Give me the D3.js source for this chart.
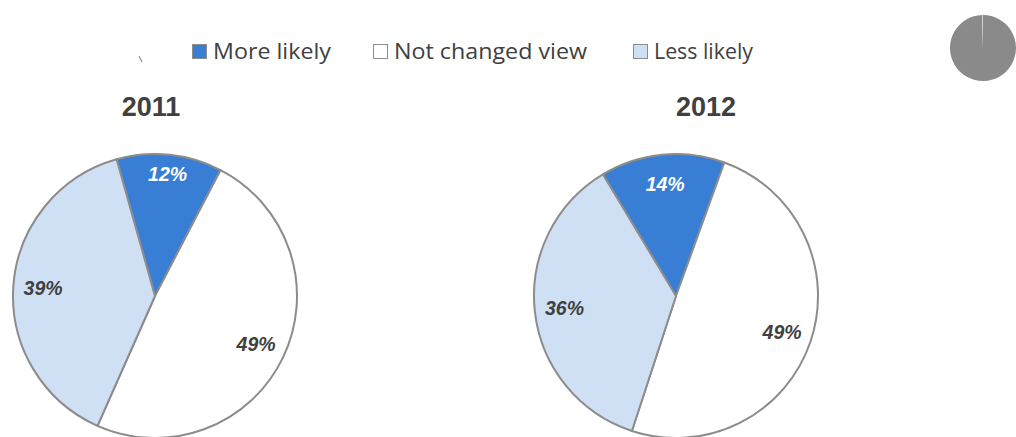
<!DOCTYPE html>
<html><head><meta charset="utf-8">
<script src="https://cdn.jsdelivr.net/npm/d3@7"></script>
<style>html,body{margin:0;padding:0;background:#fff;overflow:hidden}</style>
</head><body>
<svg id="c" width="1016" height="437"></svg>
<script>
const categories = ["More likely", "Not changed view", "Less likely"];
const colors = ["#377ed4", "#ffffff", "#cfe0f5"];
const years = ["2011", "2012"];
const values2011 = [12, 49, 39];
const values2012 = [14, 49, 36];
const labels2011 = ["12%", "49%", "39%"];
const labels2012 = ["14%", "49%", "36%"];
const startDeg = [-15.7, -31];

const svg = d3.select("#c");

// legend
const legendX = [192, 373, 633];
const legendW = [118, 193, 99];
const lg = svg.append("g");
categories.forEach((c, i) => {
  lg.append("rect").attr("x", legendX[i] + 0.5).attr("y", 44.5).attr("width", 14).attr("height", 14)
    .attr("fill", colors[i]).attr("stroke", "#8c8c8c").attr("stroke-width", 1);
  lg.append("text").attr("x", legendX[i] + 21).attr("y", 59)
    .attr("font-family", "'Open Sans', sans-serif").attr("font-size", 21).attr("fill", "#404040")
    .attr("textLength", legendW[i]).attr("lengthAdjust", "spacingAndGlyphs")
    .text(c);
});
// small stray mark
lg.append("line").attr("x1", 139).attr("y1", 56).attr("x2", 142).attr("y2", 62)
  .attr("stroke", "#909090").attr("stroke-width", 1.2);

// small gray pie artifact top right
const miniVals = [99.6, 0.4];
const mini = svg.append("g").attr("transform", "translate(983,48)");
const miniArc = d3.arc().innerRadius(0).outerRadius(33);
mini.selectAll("path").data(d3.pie().sort(null)(miniVals)).join("path")
  .attr("d", miniArc).attr("fill", (d, i) => i === 0 ? "#8a8a8a" : "#d0d0d0");

const pies = [
  {year: years[0], vals: values2011, labs: labels2011, cx: 155, cy: 296, tx: 151, start: startDeg[0], lr: [0.86, 0.79, 0.79]},
  {year: years[1], vals: values2012, labs: labels2012, cx: 676, cy: 296, tx: 706, start: startDeg[1], lr: [0.79, 0.79, 0.79]}
];
const r = 142;
const arc = d3.arc().innerRadius(0).outerRadius(r);

pies.forEach(p => {
  const s = p.start * Math.PI / 180;
  const pie = d3.pie().sort(null).startAngle(s).endAngle(s + 2 * Math.PI);
  const g = svg.append("g").attr("transform", `translate(${p.cx},${p.cy})`);
  const arcs = pie(p.vals);
  g.selectAll("path").data(arcs).join("path")
    .attr("d", arc).attr("fill", (d, i) => colors[i])
    .attr("stroke", "#8c8c8c").attr("stroke-width", 2).attr("stroke-linejoin", "round");
  g.selectAll("text").data(arcs).join("text")
    .attr("transform", (d, i) => {
      const la = d3.arc().innerRadius(r * p.lr[i]).outerRadius(r * p.lr[i]);
      return `translate(${la.centroid(d)})`;
    })
    .attr("text-anchor", "middle").attr("dy", "0.35em")
    .attr("font-family", "'Liberation Sans', Arial, sans-serif")
    .attr("font-size", 19.5).attr("font-weight", "bold").attr("font-style", "italic")
    .attr("fill", (d, i) => i === 0 ? "#ffffff" : "#404040")
    .text((d, i) => p.labs[i]);
  svg.append("text").attr("x", p.tx).attr("y", 116).attr("text-anchor", "middle")
    .attr("font-family", "'Liberation Sans', Arial, sans-serif")
    .attr("font-size", 27).attr("font-weight", "bold").attr("fill", "#404040")
    .text(p.year);
});
</script>
</body></html>
